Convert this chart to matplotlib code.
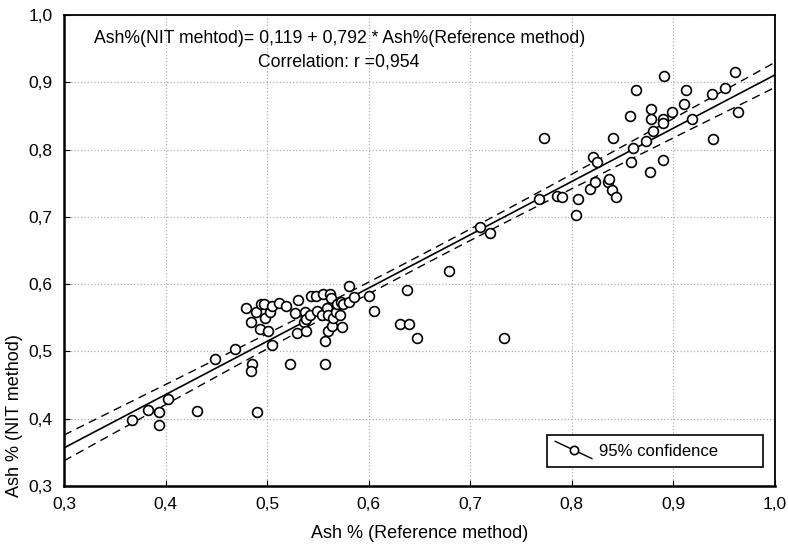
import numpy as np
import matplotlib
matplotlib.use("Agg")
import matplotlib.pyplot as plt
from matplotlib.lines import Line2D
from matplotlib.legend_handler import HandlerBase
from matplotlib.ticker import FuncFormatter

plt.rcParams['font.family'] = ['Liberation Sans', 'DejaVu Sans']

# Ash % by reference method (x) and by NIT method (y)
ash_ref = [0.367, 0.383, 0.394, 0.394, 0.402, 0.431, 0.449, 0.468, 0.479, 0.484,
           0.485, 0.484, 0.490, 0.489, 0.494, 0.497, 0.493, 0.498, 0.501, 0.503,
           0.505, 0.505, 0.512, 0.519, 0.523, 0.527, 0.529, 0.530, 0.536, 0.537,
           0.538, 0.538, 0.542, 0.543, 0.548, 0.549, 0.555, 0.554, 0.557, 0.557,
           0.559, 0.560, 0.562, 0.560, 0.563, 0.564, 0.565, 0.568, 0.569, 0.572,
           0.573, 0.574, 0.575, 0.581, 0.581, 0.586, 0.600, 0.605, 0.638, 0.631,
           0.640, 0.648, 0.679, 0.733, 0.710, 0.719, 0.768, 0.773, 0.785, 0.790,
           0.806, 0.804, 0.818, 0.821, 0.825, 0.823, 0.836, 0.837, 0.840, 0.843,
           0.841, 0.857, 0.858, 0.860, 0.873, 0.877, 0.878, 0.878, 0.880, 0.890,
           0.890, 0.890, 0.899, 0.910, 0.918, 0.939, 0.891, 0.863, 0.912, 0.938,
           0.951, 0.961, 0.964]
ash_nit = [0.398, 0.413, 0.410, 0.390, 0.430, 0.412, 0.489, 0.503, 0.564, 0.543,
           0.481, 0.471, 0.410, 0.559, 0.570, 0.570, 0.533, 0.549, 0.531, 0.559,
           0.567, 0.510, 0.572, 0.568, 0.481, 0.557, 0.527, 0.576, 0.544, 0.559,
           0.530, 0.548, 0.554, 0.583, 0.583, 0.560, 0.586, 0.554, 0.516, 0.481,
           0.564, 0.531, 0.586, 0.554, 0.579, 0.538, 0.549, 0.559, 0.571, 0.554,
           0.574, 0.537, 0.571, 0.597, 0.574, 0.581, 0.582, 0.560, 0.591, 0.541,
           0.541, 0.520, 0.619, 0.520, 0.685, 0.676, 0.727, 0.817, 0.731, 0.729,
           0.726, 0.702, 0.742, 0.789, 0.781, 0.752, 0.752, 0.756, 0.740, 0.729,
           0.817, 0.850, 0.781, 0.802, 0.812, 0.767, 0.860, 0.845, 0.827, 0.845,
           0.839, 0.784, 0.856, 0.868, 0.845, 0.815, 0.910, 0.888, 0.889, 0.882,
           0.891, 0.916, 0.856]

intercept, slope = 0.119, 0.792
r_value = "0,954"


class DiagHandler(HandlerBase):
    # statistica style legend key: diagonal line with a circle
    def create_artists(self, legend, orig_handle, xdescent, ydescent,
                       width, height, fontsize, trans):
        x0, x1 = -xdescent, -xdescent + width
        y0, y1 = -ydescent + height + 2, -ydescent - 2
        ln = Line2D([x0, x1], [y0, y1], color='k', lw=1, transform=trans)
        mk = Line2D([(x0 + x1) / 2], [(y0 + y1) / 2], marker='o', ms=6,
                    mfc='white', mec='k', mew=1.2, ls='', transform=trans)
        return [ln, mk]


x = np.array(ash_ref)
y = np.array(ash_nit)
n = len(x)

# 95% confidence band of the fitted line
resid = y - (intercept + slope * x)
s = np.sqrt(np.sum(resid ** 2) / (n - 2))
sxx = np.sum((x - x.mean()) ** 2)
xs = np.linspace(0.3, 1.0, 200)
fit = intercept + slope * xs
half = 1.98 * s * np.sqrt(1 / n + (xs - x.mean()) ** 2 / sxx)

fig = plt.figure(figsize=(7.88, 5.49), dpi=100)
ax = fig.add_axes([0.0812, 0.1148, 0.9023, 0.8579])

ax.plot(xs, fit, color='k', lw=1.2, zorder=3)
ax.plot(xs, fit + half, color='k', lw=1, ls=(0, (6, 4)), zorder=3)
ax.plot(xs, fit - half, color='k', lw=1, ls=(0, (6, 4)), zorder=3)
pts = ax.scatter(x, y, s=50, facecolors='white', edgecolors='k',
                 linewidths=1.2, zorder=4, label='95% confidence')

ax.set_xlim(0.3, 1.0)
ax.set_ylim(0.3, 1.0)
ticks = np.round(np.arange(0.3, 1.01, 0.1), 1)
ax.set_xticks(ticks)
ax.set_yticks(ticks)
fmt = FuncFormatter(lambda v, p: f"{v:.1f}".replace('.', ','))
ax.xaxis.set_major_formatter(fmt)
ax.yaxis.set_major_formatter(fmt)
ax.tick_params(direction='in', length=4, labelsize=12.5, pad=8, color='k')
ax.grid(True, ls=':', color='#b0b0b0', lw=0.9)
ax.set_axisbelow(True)

for side in ['left', 'bottom']:
    ax.spines[side].set_linewidth(1.8)
for side in ['top', 'right']:
    ax.spines[side].set_linewidth(1.3)

ax.set_xlabel('Ash % (Reference method)', fontsize=13, labelpad=9)
ax.set_ylabel('Ash % (NIT method)', fontsize=13)
ax.yaxis.set_label_coords(-0.058, 0.150)

ax.text(0.387, 0.951, 'Ash%(NIT mehtod)= 0,119 + 0,792 * Ash%(Reference method)',
        transform=ax.transAxes, ha='center', va='center', fontsize=12.7)
ax.text(0.387, 0.900, 'Correlation: r =' + r_value,
        transform=ax.transAxes, ha='center', va='center', fontsize=12.7)

leg = ax.legend(handles=[pts], labels=['95% confidence        '],
                handler_map={pts: DiagHandler()}, loc='lower right',
                bbox_to_anchor=(0.983, 0.040), borderaxespad=0,
                fancybox=False, framealpha=1, edgecolor='k', fontsize=12,
                handlelength=2.2, handletextpad=0.4, borderpad=0.5)
leg.get_frame().set_linewidth(1.2)

fig.savefig('out.png', dpi=100)
